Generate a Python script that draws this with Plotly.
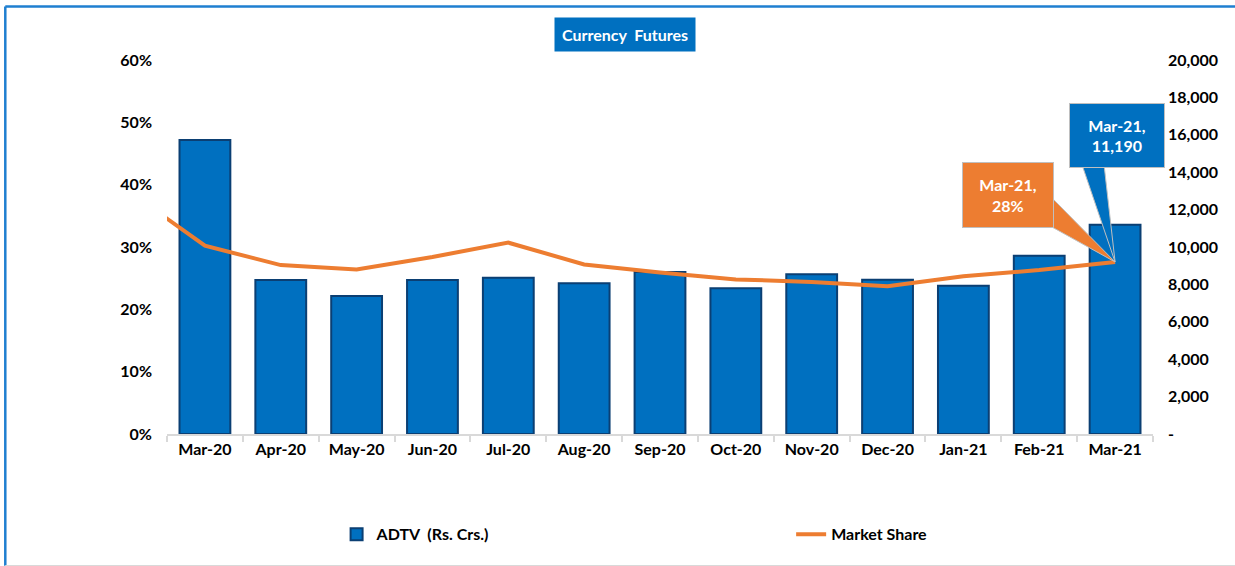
import plotly.graph_objects as go

months = ["Mar-20", "Apr-20", "May-20", "Jun-20", "Jul-20", "Aug-20", "Sep-20",
          "Oct-20", "Nov-20", "Dec-20", "Jan-21", "Feb-21", "Mar-21"]
adtv = [15720, 8235, 7380, 8235, 8360, 8056, 8663, 7794, 8538, 8250, 7930, 9535, 11190]
# market share (%); first value is the preceding month (Feb-20), clipped by the plot edge
share_months = ["Feb-20"] + months
market_share = [38.9, 30.2, 27.1, 26.4, 28.4, 30.7, 27.2, 25.9, 24.8, 24.4, 23.7, 25.3, 26.3, 27.6]

left_ticks = [0, 10, 20, 30, 40, 50, 60]
left_labels = ["0%", "10%", "20%", "30%", "40%", "50%", "60%"]
right_ticks = [0, 2000, 4000, 6000, 8000, 10000, 12000, 14000, 16000, 18000, 20000]
right_labels = ["-", "2,000", "4,000", "6,000", "8,000", "10,000", "12,000",
                "14,000", "16,000", "18,000", "20,000"]

FONT = "Lato"
BLUE = "#0070C0"
ORANGE = "#ED7D31"

x_bar = list(range(len(months)))
x_line = list(range(-1, len(months)))

fig = go.Figure()
fig.add_trace(go.Bar(
    x=x_bar, y=adtv, name="ADTV  (Rs. Crs.)", yaxis="y", legend="legend",
    marker=dict(color=BLUE, line=dict(color="#0B3F73", width=2)),
    width=0.67,
))
fig.add_trace(go.Scatter(
    x=x_line, y=market_share, name="Market Share", yaxis="y2", legend="legend2",
    mode="lines", line=dict(color=ORANGE, width=4),
))

last_i = len(months) - 1
last_share = market_share[-1]

# callout wedges (pixel-sized shapes anchored on the last line point)
fig.add_shape(type="path", xref="x", yref="y2", xsizemode="pixel", ysizemode="pixel",
              xanchor=last_i, yanchor=last_share,
              path="M 0 0 L -33 97 L -11 97 Z",
              fillcolor=BLUE, line=dict(color="#BFBFBF", width=1), layer="above")
fig.add_shape(type="path", xref="x", yref="y2", xsizemode="pixel", ysizemode="pixel",
              xanchor=last_i, yanchor=last_share,
              path="M 0 0 L -65 66 L -65 36 Z",
              fillcolor=ORANGE, line=dict(color="#BFBFBF", width=1), layer="above")

fig.add_annotation(x=last_i, y=last_share, xref="x", yref="y2", showarrow=False,
                   text=f"{months[-1]},<br>{adtv[-1]:,}",
                   font=dict(family=FONT, size=16, color="white", weight="bold"),
                   bgcolor=BLUE, bordercolor="#BFBFBF", borderwidth=1,
                   width=92, height=61, xshift=2, yshift=126)
fig.add_annotation(x=last_i, y=last_share, xref="x", yref="y2", showarrow=False,
                   text=f"{months[-1]},<br>{round(last_share)}%",
                   font=dict(family=FONT, size=16, color="white", weight="bold"),
                   bgcolor=ORANGE, bordercolor="#BFBFBF", borderwidth=1,
                   width=88, height=62, xshift=-107, yshift=67)

# title box
fig.add_annotation(x=0.464, y=1.067, xref="paper", yref="paper", showarrow=False,
                   xanchor="center", yanchor="middle",
                   text="Currency  Futures",
                   font=dict(family=FONT, size=16, color="white", weight="bold"),
                   bgcolor=BLUE, borderpad=7)

# outer frame
fig.add_shape(type="line", xref="paper", yref="paper", x0=-0.164, x1=1.09, y0=1.143, y1=1.143,
              line=dict(color="#1F7FD0", width=2.5))
fig.add_shape(type="line", xref="paper", yref="paper", x0=-0.164, x1=-0.164, y0=1.143, y1=-0.352,
              line=dict(color="#1F7FD0", width=2.5))
fig.add_shape(type="line", xref="paper", yref="paper", x0=-0.164, x1=1.09, y0=-0.352, y1=-0.352,
              line=dict(color="#D9D9D9", width=1.5))

legend_common = dict(orientation="h", xanchor="left", yanchor="middle", y=-0.268,
                     font=dict(family=FONT, size=16, color="black", weight="bold"),
                     bgcolor="rgba(0,0,0,0)")

fig.update_layout(
    width=1235, height=566,
    margin=dict(l=167, r=82, t=60, b=132),
    paper_bgcolor="white", plot_bgcolor="white",
    font=dict(family=FONT, size=15, color="black"),
    bargap=0.33,
    showlegend=True,
    legend=dict(x=0.172, **legend_common),
    legend2=dict(x=0.633, **legend_common),
    xaxis=dict(range=[-0.5, len(months) - 0.5], tickvals=x_bar, ticktext=months,
               showgrid=False, zeroline=False, showline=True, linecolor="#D9D9D9", linewidth=1.5,
               ticks="", ticklen=0,
               minor=dict(ticks="outside", tick0=-0.5, dtick=1, ticklen=6,
                          tickcolor="#D9D9D9", tickwidth=1.5, showgrid=False),
               tickfont=dict(family=FONT, size=16, color="black", weight="bold")),
    yaxis=dict(side="right", range=[0, 20000], tickvals=right_ticks, ticktext=right_labels,
               showgrid=False, zeroline=False, showline=False, ticks="",
               ticklabelstandoff=14,
               tickfont=dict(family=FONT, size=16, color="black", weight="bold")),
    yaxis2=dict(overlaying="y", side="left", range=[0, 60], tickvals=left_ticks,
                ticktext=left_labels, showgrid=False, zeroline=False, showline=False,
                ticks="", ticklabelstandoff=14,
                tickfont=dict(family=FONT, size=16, color="black", weight="bold")),
)

fig.write_html("out.html", config={"displayModeBar": False},
               post_script="document.body.style.margin='0px';")
